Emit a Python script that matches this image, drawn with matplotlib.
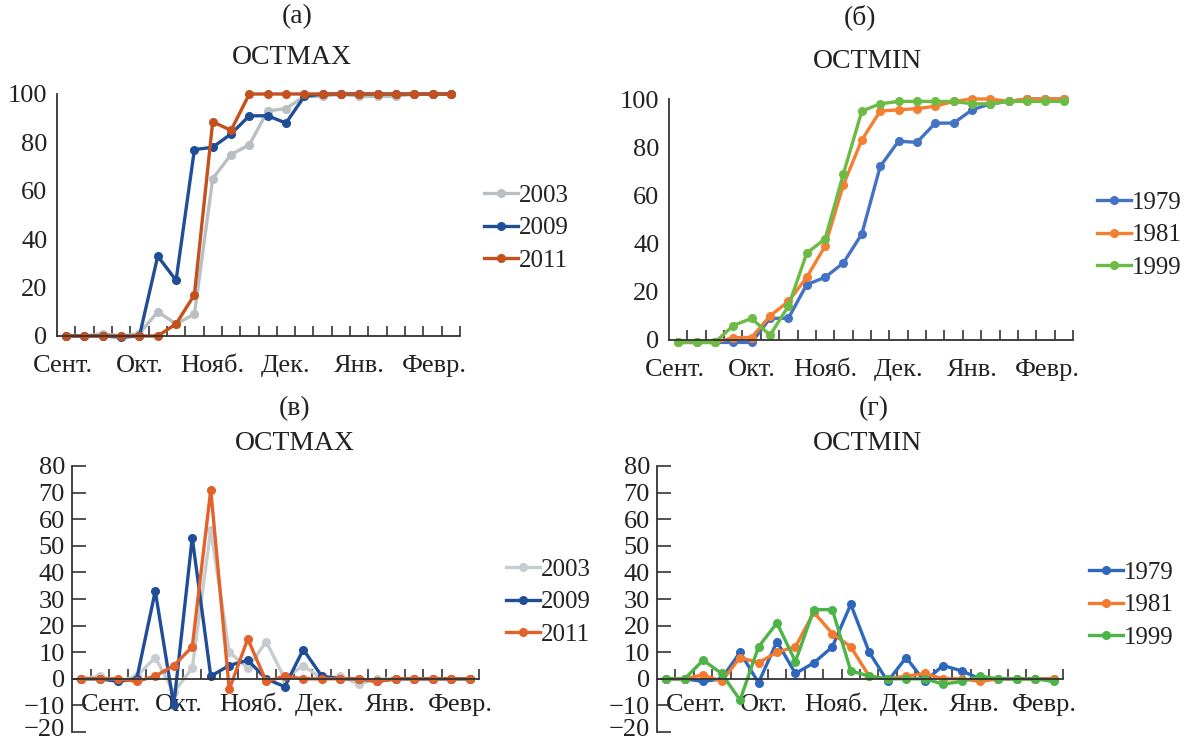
import matplotlib
matplotlib.use("Agg")
import matplotlib.pyplot as plt
import matplotlib.transforms as mtransforms
from matplotlib.ticker import FixedLocator, NullFormatter
import numpy as np

plt.rcParams['font.family'] = ['Liberation Serif', 'DejaVu Serif']
plt.rcParams['font.size'] = 18
plt.rcParams['text.color'] = '#222222'
plt.rcParams['axes.unicode_minus'] = True

# month labels under the category axis
months = ['Сент.', 'Окт.', 'Нояб.', 'Дек.', 'Янв.', 'Февр.']
n_cat = 22

# (а) OCTMAX, cumulative
max_years = ['2003', '2009', '2011']
max_2003 = [0, 0, 1, 0, 1, 10, 5, 9, 65, 75, 79, 93, 94, 99, 99, 100, 99, 99, 99, 100, 100, 100]
max_2009 = [0, 0, 0, -0.5, 0, 33, 23, 77, 78, 83.5, 91, 91, 88, 99, 100, 100, 100, 100, 100, 100, 100, 100]
max_2011 = [0, 0, 0, 0, 0, 0, 5, 17, 88.5, 85, 100, 100, 100, 100, 100, 100, 100, 100, 100, 100, 100, 100]

# (б) OCTMIN, cumulative
min_years = ['1979', '1981', '1999']
min_1979 = [-1, -1, -1, -1, -1, 9, 9, 23, 26, 32, 44, 72, 82.5, 82, 90, 90, 95.5, 98, 99, 100, 100, 100]
min_1981 = [-1, -1, -1, 1, 1, 10, 16, 26, 39, 64.5, 83, 95, 95.5, 96, 97, 99, 100, 100, 99, 100, 100, 100]
min_1999 = [-1, -1, -1, 6, 9, 2, 14, 36, 42, 69, 95, 98, 99, 99, 99, 99, 98, 98, 99, 99, 99, 99]

# (в) OCTMAX, increments
dmax_2003 = [0, 1, -1, 1, 8, -5, 4, 56, 10, 4, 14, 0, 5, 0, 1, -2, 0, 0, 0, 0, 0, 0]
dmax_2009 = [0, 0, -1, 0, 33, -10, 53, 1, 5, 7, 0, -3, 11, 1, 0, 0, -1, 0, 0, 0, 0, 0]
dmax_2011 = [0, 0, 0, -1, 1, 5, 12, 71, -4, 15, -1, 1, 0, 0, 0, 0, -1, 0, 0, 0, 0, 0]

# (г) OCTMIN, increments
dmin_1979 = [0, 0, -1, 0, 10, -1.5, 14, 2, 6, 12, 28, 10, -1, 8, -1, 5, 3, 0, 0, 0, 0, 0]
dmin_1981 = [0, 0, 1.5, -1, 8, 6, 10, 12, 25, 17, 12, 1, 0, 1, 2, 0, 0, -1, 0, 0, 0, 0]
dmin_1999 = [0, 0, 7, 2, -8, 12, 21, 6.5, 26, 26, 3, 1, 0, 0, 0, -2, -1, 1, 0, 0, 0, -1]

col_max = ['#B9BFC2', '#1F4E96', '#C4501C']
col_dmax = ['#C6CCCF', '#1F4E96', '#E2622A']
col_min = ['#4472C4', '#F47F30', '#6CBB45']
col_dmin = ['#2E68BE', '#F47A30', '#4DB548']

W, H = 1185, 742
fig = plt.figure(figsize=(W / 100, H / 100), dpi=100)


def make_ax(x0, x1, ytop, ybot):
    return fig.add_axes([x0 / W, 1 - ybot / H, (x1 - x0) / W, (ybot - ytop) / H])


def style(ax, ylim, yticks, label_pos, zero_axis, ypad, xpad, ytick_len):
    ax.set_xlim(-0.5, n_cat - 0.5)
    ax.set_ylim(*ylim)
    for s in ['top', 'right']:
        ax.spines[s].set_visible(False)
    for s in ['left', 'bottom']:
        ax.spines[s].set_color('#333333')
        ax.spines[s].set_linewidth(1.3)
    if zero_axis:
        ax.spines['bottom'].set_position(('data', 0))
    ax.set_yticks(yticks)
    ax.tick_params(axis='y', length=ytick_len, direction='in', width=1.2,
                   color='#333333', pad=ypad, labelsize=19, labelcolor='#222222')
    ax.xaxis.set_major_locator(FixedLocator(label_pos))
    ax.set_xticklabels(months)
    ax.xaxis.set_minor_locator(FixedLocator(np.arange(0.5, n_cat, 1.0)))
    ax.xaxis.set_minor_formatter(NullFormatter())
    ax.tick_params(axis='x', which='major', length=0, pad=xpad, labelsize=19,
                   labelcolor='#222222')
    ax.tick_params(axis='x', which='minor', length=7, direction='in', width=1.2,
                   color='#333333')
    if zero_axis:
        # lowest label sits at the very bottom edge; lift it a little
        lab = ax.get_yticklabels()[0]
        lab.set_transform(lab.get_transform() +
                          mtransforms.ScaledTranslation(0, 4 / 100, fig.dpi_scale_trans))


def draw(ax, series, labels, colors, leg_x, leg_y):
    x = np.arange(n_cat)
    for vals, lab, c in zip(series, labels, colors):
        ax.plot(x, vals, color=c, lw=2.4, marker='o', ms=5.5, label=lab, clip_on=False,
                solid_joinstyle='round')
    ax.legend(loc='center left', bbox_to_anchor=(leg_x / W, 1 - leg_y / H),
              bbox_transform=fig.transFigure, frameon=False, fontsize=18,
              handlelength=1.35, handletextpad=0.05, labelspacing=0.4,
              borderpad=0, borderaxespad=0)


top_pos = [-0.2, 4, 8, 12, 16, 20.1]
bot_pos = [1.6, 5.3, 9.2, 12.9, 16.7, 20.5]

ax_a = make_ax(57, 460, 94, 336)
style(ax_a, (0, 100), range(0, 101, 20), top_pos, False, 7, 14, 0)
draw(ax_a, [max_2003, max_2009, max_2011], max_years, col_max, 484, 228)

ax_b = make_ax(669, 1073, 99, 340)
style(ax_b, (0, 100), range(0, 101, 20), top_pos, False, 7, 14, 0)
draw(ax_b, [min_1979, min_1981, min_1999], min_years, col_min, 1097, 235)

ax_c = make_ax(72, 479, 466, 732)
style(ax_c, (-20, 80), range(-20, 81, 10), bot_pos, True, 5, 11, 10)
draw(ax_c, [dmax_2003, dmax_2009, dmax_2011], max_years, col_dmax, 506, 602)

ax_d = make_ax(657, 1063, 466, 732)
style(ax_d, (-20, 80), range(-20, 81, 10), bot_pos, True, 5, 11, 10)
draw(ax_d, [dmin_1979, dmin_1981, dmin_1999], min_years, col_dmin, 1089, 605)

# panel letters and titles
for txt, x, y in [('(а)', 297, 17), ('OCTMAX', 292, 58),
                  ('(б)', 860, 17), ('OCTMIN', 868, 62),
                  ('(в)', 295, 409), ('OCTMAX', 295, 443),
                  ('(г)', 874, 409), ('OCTMIN', 868, 443)]:
    fig.text(x / W, 1 - y / H, txt, ha='center', va='center', fontsize=20)

fig.savefig('out.png', dpi=100)
